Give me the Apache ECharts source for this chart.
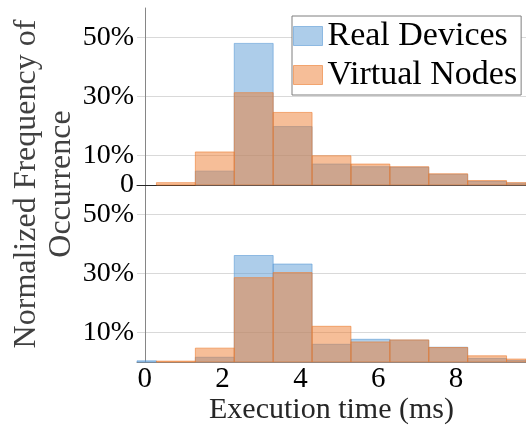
<!DOCTYPE html>
<html><head><meta charset="utf-8">
<script src="https://cdn.jsdelivr.net/npm/echarts@6/dist/echarts.min.js"></script>
<style>html,body{margin:0;padding:0;background:#fff}#c{width:526px;height:426px}</style>
</head><body><div id="c"></div>
<script>
// Histogram bins (execution time, ms): each bin starts at binStarts[i], width binWidth
const binStarts = [-0.7, 0.3, 1.3, 2.3, 3.3, 4.3, 5.3, 6.3, 7.3, 8.3, 9.3];
const binWidth = 1;
// Top panel (%)
const topReal    = [0, 0, 4.7, 48.0, 19.8, 7.1, 6.2, 6.0, 3.6, 1.2, 0.6];
const topVirtual = [0, 0.8, 11.2, 31.3, 24.6, 9.9, 7.1, 6.2, 3.8, 1.5, 0.8];
// Bottom panel (%)
const botReal    = [0.4, 0, 1.6, 36.1, 33.2, 6.0, 7.7, 7.4, 5.0, 1.2, 0.5];
const botVirtual = [0, 0.3, 4.7, 28.6, 30.3, 12.1, 6.8, 7.5, 4.9, 2.1, 1.0];
const xTicks = [0, 2, 4, 6, 8];
const yTicksTop = [0, 10, 30, 50];
const yTicksBottom = [10, 30, 50];
const gridValues = [10, 30, 50];

const FONT = "'Liberation Serif', 'Times New Roman', serif";
const BLUE = 'rgba(91,155,213,0.5)', BLUE_EDGE = 'rgba(91,155,213,0.6)';
const ORANGE = 'rgba(237,125,49,0.5)', ORANGE_EDGE = 'rgba(237,125,49,0.6)';

function toData(vals) { return binStarts.map((s, i) => [s, s + binWidth, vals[i]]); }
function renderBar(params, api) {
  const y = api.value(2);
  if (!y) return null;
  const p0 = api.coord([api.value(0), y]);
  const p1 = api.coord([api.value(1), 0]);
  const cs = params.coordSys;
  const rect = echarts.graphic.clipRectByRect(
    {x: p0[0], y: p0[1], width: p1[0] - p0[0], height: p1[1] - p0[1]},
    {x: cs.x, y: cs.y, width: cs.width, height: cs.height});
  return rect && {type: 'rect', shape: rect, style: api.style()};
}
function series(name, idx, vals, color, edge) {
  return {
    type: 'custom', name: name, xAxisIndex: idx, yAxisIndex: idx,
    renderItem: renderBar, data: toData(vals),
    encode: {x: [0, 1], y: 2},
    itemStyle: {color: color, borderColor: edge, borderWidth: 1},
    silent: true
  };
}
function yAxis(idx, labels) {
  return {
    type: 'value', gridIndex: idx, min: 0, max: 60, interval: 10,
    axisLine: {show: true, lineStyle: {color: '#868686', width: 1}},
    axisTick: {show: false, customValues: gridValues},
    splitLine: {show: true, lineStyle: {color: '#d9d9d9', width: 1}},
    axisLabel: {customValues: labels, formatter: v => v === 0 ? '0' : v + '%',
      fontFamily: FONT, fontSize: 28, color: '#000', margin: 3}
  };
}

const chart = echarts.init(document.getElementById('c'), null, {renderer: 'canvas'});
chart.setOption({
  animation: false,
  backgroundColor: '#fff',
  grid: [
    {left: 137, top: 8, right: 0, height: 177},
    {left: 137, top: 185, right: 0, height: 177.5}
  ],
  xAxis: [
    {type: 'value', gridIndex: 0, min: -0.2, max: 9.8,
     axisLine: {show: true, onZero: false, lineStyle: {color: '#262626', width: 1}},
     axisTick: {show: false}, axisLabel: {show: false}, splitLine: {show: false}},
    {type: 'value', gridIndex: 1, min: -0.2, max: 9.8,
     axisLine: {show: true, onZero: false, lineStyle: {color: '#868686', width: 1}},
     axisTick: {show: false}, splitLine: {show: false},
     axisLabel: {customValues: xTicks, fontFamily: FONT, fontSize: 29, color: '#000', margin: 3},
     name: 'Execution time (ms)', nameLocation: 'middle', nameGap: 33,
     nameTextStyle: {fontFamily: FONT, fontSize: 30, color: '#262626'}}
  ],
  yAxis: [yAxis(0, yTicksTop), yAxis(1, yTicksBottom)],
  legend: {
    orient: 'vertical', left: 292, top: 16, padding: [3, 4, 3, 1], itemGap: 5,
    itemWidth: 29, itemHeight: 19, borderColor: '#7f7f7f', borderWidth: 1,
    backgroundColor: '#fff',
    textStyle: {fontFamily: FONT, fontSize: 34, color: '#000', lineHeight: 34},
    data: [
      {name: 'Real Devices', icon: 'rect', itemStyle: {color: BLUE, borderColor: BLUE_EDGE, borderWidth: 1}},
      {name: 'Virtual Nodes', icon: 'rect', itemStyle: {color: ORANGE, borderColor: ORANGE_EDGE, borderWidth: 1}}
    ]
  },
  graphic: [{
    type: 'text', x: 44, y: 184, rotation: Math.PI / 2,
    style: {text: 'Normalized Frequency of\nOccurrence', fill: '#404040',
      fontFamily: FONT, fontSize: 32, lineHeight: 35, align: 'center', verticalAlign: 'middle'}
  }],
  series: [
    series('Real Devices', 0, topReal, BLUE, BLUE_EDGE),
    series('Virtual Nodes', 0, topVirtual, ORANGE, ORANGE_EDGE),
    series('Real Devices', 1, botReal, BLUE, BLUE_EDGE),
    series('Virtual Nodes', 1, botVirtual, ORANGE, ORANGE_EDGE)
  ]
});
</script></body></html>
